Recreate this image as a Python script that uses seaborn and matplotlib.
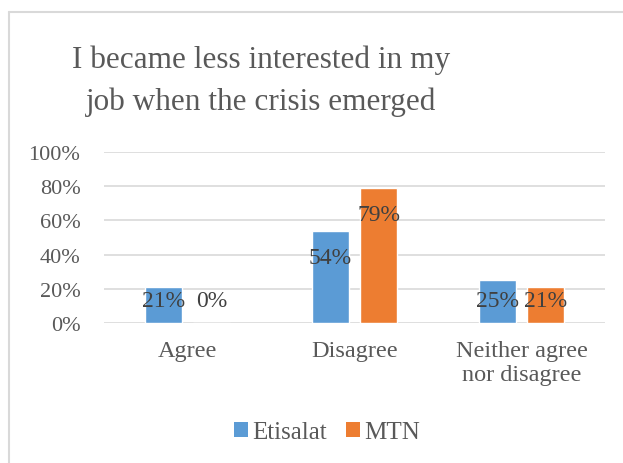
import matplotlib
matplotlib.use("Agg")
import matplotlib.pyplot as plt
from matplotlib.lines import Line2D
from matplotlib.patches import Patch
import seaborn as sns
import pandas as pd

# Survey responses (percent of respondents)
categories = ["Agree", "Disagree", "Neither agree\nnor disagree"]
companies = ["Etisalat", "MTN"]
etisalat = [21, 54, 25]
mtn = [0, 79, 21]
yticks = [0, 20, 40, 60, 80, 100]

colors = {"Etisalat": "#5B9BD5", "MTN": "#ED7D31"}
text_gray = "#595959"
label_gray = "#404040"
grid_gray = "#D9D9D9"

df = pd.DataFrame({
    "category": categories * 2,
    "company": ["Etisalat"] * 3 + ["MTN"] * 3,
    "value": etisalat + mtn,
})

sns.set_theme(style="white")
plt.rcParams["font.family"] = ["Liberation Serif", "DejaVu Serif"]

W, H = 623, 464
fig = plt.figure(figsize=(W / 100, H / 100), dpi=100)
ax = fig.add_axes([104 / W, 1 - 324 / H, (605 - 104) / W, (324 - 153) / H])

sns.barplot(data=df, x="category", y="value", hue="company",
            hue_order=companies, palette=colors, width=0.575, gap=0.21,
            saturation=1, ax=ax, legend=False, zorder=3)

ax.set_ylim(0, 100)
ax.set_xlim(-0.5, 2.5)
ax.set_yticks(yticks)
ax.set_yticklabels([f"{t}%" for t in yticks])
for t in yticks:
    ax.axhline(t, color=grid_gray, lw=1.2, zorder=1)
for s in ax.spines.values():
    s.set_visible(False)
ax.tick_params(axis="both", length=0, colors=text_gray)
ax.tick_params(axis="y", pad=17, labelsize=16)
ax.tick_params(axis="x", pad=12, labelsize=17.5)
for lbl in ax.get_xticklabels():
    lbl.set_linespacing(1.2)
ax.set_xlabel("")
ax.set_ylabel("")
ax.grid(False)

# Value labels near the top of each bar, kept above the baseline
for container, vals in zip(ax.containers, [etisalat, mtn]):
    for rect, v in zip(container, vals):
        cx = rect.get_x() + rect.get_width() / 2
        y = max(v - 15.8, 12.9)
        ax.text(cx, y, f"{v}%", ha="center", va="center",
                fontsize=17, color=label_gray, zorder=4)

# Title
fig.text(261 / W, 1 - 81 / H,
         "I became less interested in my\njob when the crisis emerged",
         ha="center", va="center", fontsize=22.5, color=text_gray,
         linespacing=1.55)

# Legend
handles = [Patch(facecolor=colors[c], edgecolor="none") for c in companies]
fig.legend(handles, companies, loc="center", ncol=2,
           bbox_to_anchor=(327 / W, 1 - 433 / H), frameon=False,
           fontsize=18, handlelength=0.55, handleheight=0.55,
           handletextpad=0.15, columnspacing=0.8, labelcolor=text_gray)

# Chart-area border
fig.add_artist(Line2D([9 / W, 1], [1 - 13 / H, 1 - 13 / H],
                      transform=fig.transFigure, color=grid_gray, lw=1.5))
fig.add_artist(Line2D([9 / W, 9 / W], [0, 1 - 13 / H],
                      transform=fig.transFigure, color=grid_gray, lw=1.5))

fig.savefig("out.png", dpi=100, facecolor="white")
